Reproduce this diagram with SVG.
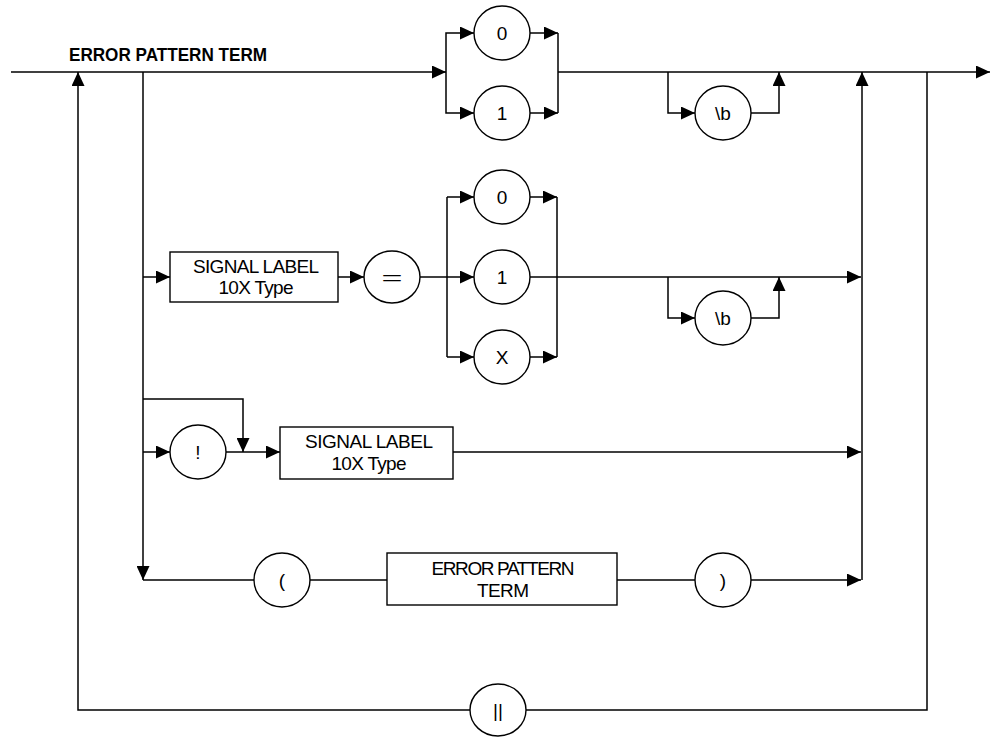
<svg xmlns="http://www.w3.org/2000/svg" width="991" height="737" viewBox="0 0 991 737">
<style>
.c{fill:none;stroke:#000;stroke-width:1.5}
.a{marker-end:url(#ah)}
.n ellipse,.n rect{fill:#fff;stroke:#000;stroke-width:1.4}
text{font-family:"Liberation Sans",Arial,sans-serif;font-size:19px;fill:#000;text-anchor:middle}
.t{font-weight:bold;text-anchor:start}
</style>
<defs>
<marker id="ah" markerWidth="15" markerHeight="13" refX="14" refY="6.5" orient="auto" markerUnits="userSpaceOnUse"><path d="M0,0 L14,6.5 L0,13 z" fill="#000"/></marker>
</defs>
<rect width="991" height="737" fill="#fff"/>
<text class="t" x="69" y="61" textLength="198" lengthAdjust="spacingAndGlyphs">ERROR PATTERN TERM</text>
<g id="connectors">
<path class="c a" d="M11,72 H446"/>
<path class="c a" d="M446,72 V33 H474"/>
<path class="c a" d="M446,72 V113 H474"/>
<path class="c a" d="M530,33 H558"/>
<path class="c a" d="M530,113 H558"/>
<path class="c" d="M558,33 V113"/>
<path class="c a" d="M558,72 H990"/>
<path class="c a" d="M668,72 V113 H695"/>
<path class="c a" d="M751,113 H779 V72"/>
<path class="c a" d="M862,580 V72"/>
<path class="c" d="M927,72 V710 H526"/>
<path class="c a" d="M470,710 H78 V72"/>
<path class="c a" d="M143,72 V580"/>
<path class="c" d="M143,580 H254"/>
<path class="c a" d="M143,277 H170"/>
<path class="c a" d="M338,277 H364"/>
<path class="c a" d="M420,277 H474"/>
<path class="c" d="M447,197 V357"/>
<path class="c a" d="M447,197 H474"/>
<path class="c a" d="M447,357 H474"/>
<path class="c a" d="M530,197 H557"/>
<path class="c a" d="M530,357 H557"/>
<path class="c" d="M557,197 V357"/>
<path class="c a" d="M530,277 H861"/>
<path class="c a" d="M668,277 V318 H695"/>
<path class="c a" d="M751,318 H779 V277"/>
<path class="c a" d="M143,399 H243 V452"/>
<path class="c a" d="M143,452 H170"/>
<path class="c a" d="M226,452 H280"/>
<path class="c a" d="M453,452 H861"/>
<path class="c" d="M310,580 H387"/>
<path class="c" d="M617,580 H695"/>
<path class="c a" d="M751,580 H861"/>
</g>
<g id="n-top0" class="n"><ellipse cx="502" cy="33" rx="28" ry="27"/><text x="502" y="40">0</text></g>
<g id="n-top1" class="n"><ellipse cx="502" cy="113" rx="28" ry="27"/><text x="502" y="120">1</text></g>
<g id="n-topb" class="n"><ellipse cx="723" cy="113" rx="28" ry="27"/><text x="723" y="120">\b</text></g>
<g id="n-sig1" class="n"><rect x="170" y="252" width="168" height="50"/><text x="256" y="273" textLength="126">SIGNAL LABEL</text><text x="256" y="294" textLength="75">10X Type</text></g>
<g id="n-eq" class="n"><ellipse cx="392" cy="277" rx="28" ry="26"/><text x="392" y="284" textLength="21" lengthAdjust="spacingAndGlyphs">=</text></g>
<g id="n-m0" class="n"><ellipse cx="502" cy="197" rx="28" ry="27"/><text x="502" y="204">0</text></g>
<g id="n-m1" class="n"><ellipse cx="502" cy="277" rx="28" ry="27"/><text x="502" y="284">1</text></g>
<g id="n-mx" class="n"><ellipse cx="502" cy="357" rx="28" ry="27"/><text x="502" y="364">X</text></g>
<g id="n-mb" class="n"><ellipse cx="723" cy="318" rx="28" ry="27"/><text x="723" y="325">\b</text></g>
<g id="n-not" class="n"><ellipse cx="198" cy="452" rx="28" ry="27"/><text x="198" y="459">!</text></g>
<g id="n-sig2" class="n"><rect x="280" y="427" width="173" height="52"/><text x="369" y="448" textLength="128">SIGNAL LABEL</text><text x="369" y="470" textLength="75">10X Type</text></g>
<g id="n-lp" class="n"><ellipse cx="282" cy="580" rx="28" ry="27"/><text x="282" y="587">(</text></g>
<g id="n-ept" class="n"><rect x="387" y="553" width="230" height="52"/><text x="503" y="575" textLength="143">ERROR PATTERN</text><text x="503" y="597" textLength="52">TERM</text></g>
<g id="n-rp" class="n"><ellipse cx="723" cy="580" rx="28" ry="27"/><text x="723" y="587">)</text></g>
<g id="n-or" class="n"><ellipse cx="498" cy="710" rx="28" ry="26"/><text x="498" y="717">||</text></g>
</svg>
